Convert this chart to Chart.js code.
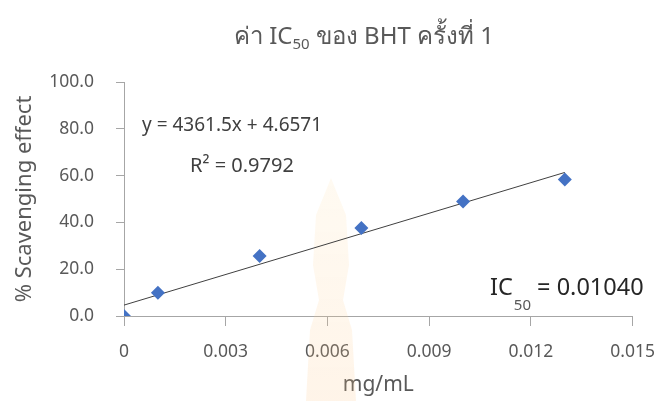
<!DOCTYPE html>
<html>
<head>
<meta charset="utf-8">
<script src="https://cdn.jsdelivr.net/npm/chart.js@4/dist/chart.umd.min.js"></script>
<style>
  html, body { margin: 0; padding: 0; background: #ffffff; }
  #wrap { width: 671px; height: 401px; position: relative; }
</style>
</head>
<body>
<div id="wrap"><canvas id="c" width="671" height="401"></canvas></div>
<script>
// ---- data ----
const concentrations = [0, 0.001, 0.004, 0.007, 0.010, 0.013];
const scavenging = [0, 9.9, 25.6, 37.6, 48.9, 58.3];
const trendX = [0, 0.013];
const trendY = [4.6571, 61.357];
const xTicks = [0, 0.003, 0.006, 0.009, 0.012, 0.015];
const yTicks = [0, 20, 40, 60, 80, 100];
const titleParts = ['ค่า IC', '50', ' ของ BHT ครั้งที่ 1'];
const equationText = 'y = 4361.5x + 4.6571';
const r2Text = 'R² = 0.9792';
const icParts = ['IC', '50', ' = 0.01040'];
const xTitle = 'mg/mL';
const yTitle = '% Scavenging effect';

const TXT = '#595959';
const FONT = '"Noto Sans", "Open Sans", sans-serif';

const overlay = {
  id: 'overlay',
  beforeDatasetsDraw(chart) {
    const ctx = chart.ctx;
    ctx.save();
    // faint watermark
    const g = ctx.createLinearGradient(0, 175, 0, 401);
    g.addColorStop(0, 'rgba(255,220,160,0.14)');
    g.addColorStop(1, 'rgba(255,195,130,0.18)');
    ctx.fillStyle = g;
    ctx.beginPath();
    ctx.moveTo(331, 178);
    ctx.lineTo(346, 215);
    ctx.lineTo(349, 265);
    ctx.lineTo(343, 300);
    ctx.lineTo(352, 330);
    ctx.lineTo(356, 401);
    ctx.lineTo(306, 401);
    ctx.lineTo(310, 330);
    ctx.lineTo(319, 300);
    ctx.lineTo(313, 265);
    ctx.lineTo(316, 215);
    ctx.closePath();
    ctx.fill();
    ctx.restore();
  },
  afterDraw(chart) {
    const ctx = chart.ctx;
    ctx.save();
    ctx.fillStyle = TXT;
    ctx.textBaseline = 'alphabetic';
    // title with subscript
    const tMain = '24px ' + FONT, tSub = '15px ' + FONT;
    ctx.font = tMain;
    const w0 = ctx.measureText(titleParts[0]).width;
    const w2 = ctx.measureText(titleParts[2]).width;
    ctx.font = tSub;
    const w1 = ctx.measureText(titleParts[1]).width;
    let x = 364 - (w0 + w1 + w2) / 2;
    const ty = 44;
    ctx.font = tMain; ctx.textAlign = 'left';
    ctx.fillText(titleParts[0], x, ty); x += w0;
    ctx.font = tSub; ctx.fillText(titleParts[1], x, ty + 5); x += w1;
    ctx.font = tMain; ctx.fillText(titleParts[2], x, ty);

    // equation and R2
    ctx.fillStyle = '#404040';
    ctx.font = '19px ' + FONT;
    ctx.fillText(equationText, 142, 131);
    ctx.font = '20px ' + FONT;
    ctx.fillText(r2Text, 190, 172);

    // IC50 label
    ctx.fillStyle = '#262626';
    const iMain = '23.5px ' + FONT, iSub = '15px ' + FONT;
    let ix = 490;
    ctx.font = iMain; ctx.fillText(icParts[0], ix, 295); ix += ctx.measureText(icParts[0]).width + 1;
    ctx.fillStyle = '#595959';
    ctx.font = iSub; ctx.fillText(icParts[1], ix, 310); ix += ctx.measureText(icParts[1]).width;
    ctx.fillStyle = '#262626';
    ctx.font = iMain; ctx.fillText(icParts[2], ix, 295);
    ctx.restore();
  }
};

new Chart(document.getElementById('c'), {
  type: 'scatter',
  data: {
    datasets: [
      {
        label: 'trend',
        type: 'line',
        data: trendX.map((v, i) => ({ x: v, y: trendY[i] })),
        borderColor: '#404040',
        borderWidth: 1,
        pointRadius: 0,
        fill: false,
        order: 2
      },
      {
        label: 'BHT',
        data: concentrations.map((v, i) => ({ x: v, y: scavenging[i] })),
        pointStyle: 'rectRot',
        pointRadius: 7,
        backgroundColor: '#4472C4',
        borderColor: '#4472C4',
        borderWidth: 0,
        order: 1
      }
    ]
  },
  options: {
    responsive: false,
    animation: false,
    events: [],
    layout: { padding: { left: 0, top: 82, right: 28, bottom: 0 } },
    plugins: { legend: { display: false }, title: { display: false }, tooltip: { enabled: false } },
    scales: {
      x: {
        type: 'linear',
        min: 0, max: 0.015,
        afterBuildTicks(s) { s.ticks = xTicks.map(v => ({ value: v })); },
        afterFit(s) { s.height = 85; },
        grid: { drawOnChartArea: false, drawTicks: true, tickLength: 10, color: '#a6a6a6' },
        border: { display: true, color: '#a6a6a6', width: 1 },
        ticks: {
          color: TXT, font: { family: FONT, size: 17.5 }, padding: 16, maxRotation: 0,
          callback: v => v === 0 ? '0' : Number(v).toFixed(3)
        },
        title: { display: true, text: xTitle, color: TXT, font: { family: FONT, size: 21 }, padding: { top: 0, bottom: 3 } }
      },
      y: {
        type: 'linear',
        min: 0, max: 100,
        afterBuildTicks(s) { s.ticks = yTicks.map(v => ({ value: v })); },
        afterFit(s) { s.width = 124; },
        grid: { drawOnChartArea: false, drawTicks: true, tickLength: 8, color: '#a6a6a6' },
        border: { display: true, color: '#a6a6a6', width: 1 },
        ticks: {
          color: TXT, font: { family: FONT, size: 17.5 }, padding: 22,
          callback: v => Number(v).toFixed(1)
        },
        title: { display: true, text: yTitle, color: TXT, font: { family: FONT, size: 22 }, padding: { top: 12, bottom: 0 } }
      }
    }
  },
  plugins: [overlay]
});
</script>
</body>
</html>
